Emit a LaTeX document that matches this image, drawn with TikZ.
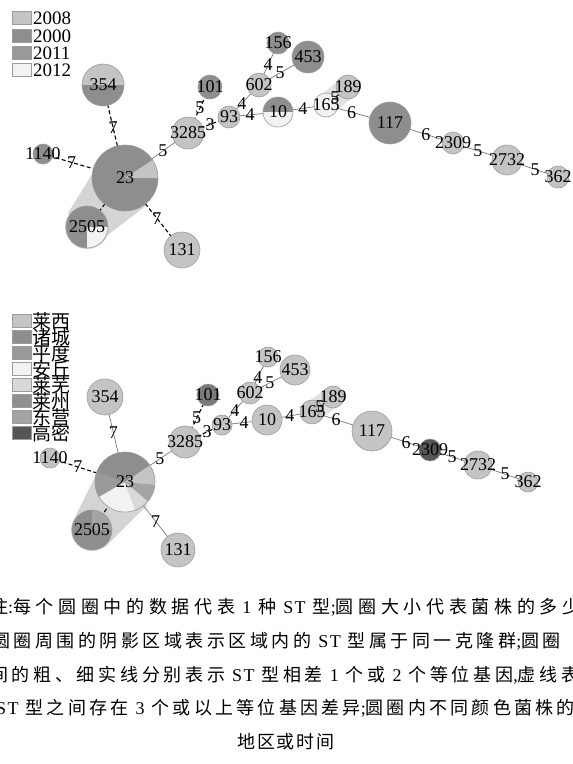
\documentclass[tikz,border=0pt]{standalone}
\usepackage{fontspec}
\setmainfont{Liberation Serif}
\newfontfamily\cjk{Noto Sans CJK SC}
\newfontfamily\latc[LetterSpace=8]{Liberation Serif}
\pgfdeclarelayer{bg}
\pgfdeclarelayer{hull}
\pgfdeclarelayer{edges}
\pgfdeclarelayer{pies}
\pgfdeclarelayer{front}
\pgfsetlayers{bg,hull,edges,pies,main,front}
\definecolor{cA}{HTML}{C4C4C4}
\definecolor{cB}{HTML}{8E8E8E}
\definecolor{cC}{HTML}{999999}
\definecolor{cD}{HTML}{F2F2F2}
\definecolor{cE}{HTML}{D8D8D8}
\definecolor{cF}{HTML}{909090}
\definecolor{cG}{HTML}{A4A4A4}
\definecolor{cH}{HTML}{555555}
\definecolor{cK}{HTML}{7A7A7A}
\definecolor{hullc}{HTML}{D4D4D4}
\definecolor{bandc}{HTML}{E2E2E2}
\definecolor{rimc}{HTML}{9C9C9C}
\definecolor{edgec}{HTML}{7A7A7A}
\tikzset{
  stc/.style={circle, draw=rimc, line width=0.6pt, inner sep=0pt},
  sttxt/.style={inner sep=0pt, font=\fontsize{18}{18}\selectfont},
  lbl/.style={inner sep=0pt, font=\fontsize{18}{18}\selectfont},
  solidedge/.style={draw=edgec, line width=0.7pt},
  dashedge/.style={draw=black, line width=1.1pt, dash pattern=on 4pt off 2.5pt},
  legsq/.style={rectangle, draw=rimc, line width=0.5pt, minimum width=19pt, minimum height=13pt, inner sep=0pt},
  legtxt/.style={anchor=west, inner sep=0pt, font=\fontsize{19}{19}\selectfont},
  legcjk/.style={anchor=west, inner sep=0pt, font=\cjk\fontsize{19}{19}\selectfont},
  capt/.style={inner sep=0pt, font=\fontsize{18}{18}\selectfont}
}
\newcommand\stnode[6]{\node[stc, minimum size={2*#4}, fill=#5] (#1) at (#2,#3) {};
  \node[sttxt] (#1t) at (#1.center) {#6};}
\newcommand\pieslice[5]{\begin{pgfonlayer}{pies}\fill[#5] (#1.center) -- ++({-(#3)}:#2) arc[start angle={-(#3)}, end angle={-(#4)}, radius=#2] -- cycle;\end{pgfonlayer}}
\newcommand\stedge[5]{\begin{pgfonlayer}{edges}\draw[#1] (#2.center) -- (#3.center);\end{pgfonlayer}
  \begin{pgfonlayer}{front}\path (#2.center) -- (#3.center) node[lbl, pos=#4] (lab-#2-#3) {#5};\end{pgfonlayer}}
\newcommand\capls{20}
\newcommand\zh[1]{{\cjk\addfontfeature{LetterSpace=\capls}#1}}
\newcommand\gp{\hspace{7pt}}
\newcommand\ST{{\latc ST}}
\begin{document}
\begin{tikzpicture}[x=1pt, y=-1pt]
\useasboundingbox (0,0) rectangle (573,764);
\begin{pgfonlayer}{bg}
\fill[white] (0,0) rectangle (573,764);
\end{pgfonlayer}

% ================= TOP PANEL =================
\node[legsq, fill=cA] (la1) at (22,18) {};
\node[legtxt] (lat1) at (33,18) {2008};
\node[legsq, fill=cB] (la2) at (22,36) {};
\node[legtxt] (lat2) at (33,36) {2000};
\node[legsq, fill=cC] (la3) at (22,53) {};
\node[legtxt] (lat3) at (33,53) {2011};
\node[legsq, fill=cD] (la4) at (22,70) {};
\node[legtxt] (lat4) at (33,70) {2012};

\stnode{a354}{103}{85}{21}{none}{354}
\pieslice{a354}{21}{0}{180}{cA}
\pieslice{a354}{21}{180}{360}{cB}
\stnode{a23}{125}{178}{33}{none}{23}
\pieslice{a23}{33}{33}{360}{cB}
\pieslice{a23}{33}{0}{33}{cA}
\stnode{a2505}{87}{227}{21}{none}{2505}
\pieslice{a2505}{21}{0}{270}{cB}
\pieslice{a2505}{21}{270}{360}{cD}
\stnode{a1140}{43}{154}{10}{cB}{1140}
\stnode{a131}{182}{250}{18}{cA}{131}
\stnode{a3285}{188}{133}{16}{cA}{3285}
\stnode{a101}{210}{87}{12}{cB}{101}
\stnode{a93}{229}{117}{11}{cA}{93}
\stnode{a602}{259}{85}{12}{cA}{602}
\stnode{a156}{278}{43}{11}{cB}{156}
\stnode{a453}{308}{57}{16}{cB}{453}
\stnode{a10}{278}{112}{15}{none}{10}
\pieslice{a10}{15}{0}{180}{cB}
\pieslice{a10}{15}{180}{360}{cD}
\stnode{a165}{326}{105}{12}{cD}{165}
\stnode{a189}{348}{87}{12}{cA}{189}
\stnode{a117}{390}{123}{21}{cB}{117}
\stnode{a2309}{453}{143}{11}{cA}{2309}
\stnode{a2732}{507}{160}{15}{cA}{2732}
\stnode{a362}{558}{177}{11}{cA}{362}

\begin{pgfonlayer}{hull}
\fill[hullc] (93,173) -- (147,205) -- (92,247) -- (68,213) -- cycle;
\fill[hullc] (a2505.center) circle[radius=22];
\fill[hullc] (a23.center) circle[radius=33];
\draw[bandc, line width=22pt, line cap=round] (a165.center) -- (a189.center);
\end{pgfonlayer}

\stedge{dashedge}{a354}{a23}{0.46}{7}
\stedge{dashedge}{a1140}{a23}{0.35}{7}
\stedge{dashedge}{a23}{a131}{0.56}{7}
\stedge{solidedge}{a23}{a3285}{0.6}{5}
\stedge{dashedge}{a3285}{a101}{0.54}{5}
\stedge{dashedge}{a3285}{a93}{0.54}{3}
\stedge{solidedge}{a93}{a602}{0.43}{4}
\stedge{solidedge}{a93}{a10}{0.43}{4}
\stedge{solidedge}{a602}{a156}{0.48}{4}
\stedge{solidedge}{a602}{a453}{0.43}{5}
\stedge{solidedge}{a10}{a165}{0.52}{4}
\stedge{dashedge}{a165}{a189}{0.4}{5}
\stedge{solidedge}{a165}{a117}{0.4}{6}
\stedge{solidedge}{a117}{a2309}{0.57}{6}
\stedge{solidedge}{a2309}{a2732}{0.46}{5}
\stedge{solidedge}{a2732}{a362}{0.55}{5}
\begin{pgfonlayer}{edges}\draw[dashedge] (a23.center) -- (a2505.center);\end{pgfonlayer}

% ================= BOTTOM PANEL =================
\node[legsq, fill=cA] (lb1) at (22,321) {};
\node[legsq, fill=cB] (lb2) at (22,337) {};
\node[legsq, fill=cC] (lb3) at (22,353) {};
\node[legsq, fill=cD] (lb4) at (22,369) {};
\node[legsq, fill=cE] (lb5) at (22,385) {};
\node[legsq, fill=cF] (lb6) at (22,401) {};
\node[legsq, fill=cG] (lb7) at (22,417) {};
\node[legsq, fill=cH] (lb8) at (22,433) {};
\node[legcjk] (lbt1) at (32,321) {莱西};
\node[legcjk] (lbt2) at (32,337) {诸城};
\node[legcjk] (lbt3) at (32,353) {平度};
\node[legcjk] (lbt4) at (32,369) {安丘};
\node[legcjk] (lbt5) at (32,385) {莱芜};
\node[legcjk] (lbt6) at (32,401) {莱州};
\node[legcjk] (lbt7) at (32,417) {东营};
\node[legcjk] (lbt8) at (32,433) {高密};

\stnode{b354}{105}{397}{18}{cA}{354}
\stnode{b23}{125}{482}{30}{none}{23}
\pieslice{b23}{30}{34}{160}{cB}
\pieslice{b23}{30}{160}{210}{cC}
\pieslice{b23}{30}{210}{290}{cD}
\pieslice{b23}{30}{290}{320}{cE}
\pieslice{b23}{30}{320}{355}{cG}
\pieslice{b23}{30}{355}{394}{cA}
\stnode{b2505}{92}{530}{20}{none}{2505}
\pieslice{b2505}{20}{90}{360}{cB}
\pieslice{b2505}{20}{0}{90}{cG}
\stnode{b1140}{50}{458}{10}{cA}{1140}
\stnode{b131}{178}{550}{17}{cA}{131}
\stnode{b3285}{185}{442}{16}{cA}{3285}
\stnode{b101}{208}{395}{11}{cK}{101}
\stnode{b93}{222}{425}{10}{cA}{93}
\stnode{b602}{250}{393}{11}{cA}{602}
\stnode{b156}{268}{357}{10}{cA}{156}
\stnode{b453}{295}{370}{15}{cA}{453}
\stnode{b10}{267}{420}{15}{cA}{10}
\stnode{b165}{312}{412}{12}{cA}{165}
\stnode{b189}{333}{397}{11}{cA}{189}
\stnode{b117}{372}{431}{20}{cA}{117}
\stnode{b2309}{430}{450}{11}{cH}{2309}
\stnode{b2732}{478}{465}{14}{cA}{2732}
\stnode{b362}{528}{482}{10}{cA}{362}

\begin{pgfonlayer}{hull}
\fill[hullc] (97,473) -- (147,505) -- (105,547) -- (75,517) -- cycle;
\fill[hullc] (b2505.center) circle[radius=21];
\fill[hullc] (b23.center) circle[radius=30];
\draw[bandc, line width=21pt, line cap=round] (b165.center) -- (b189.center);
\end{pgfonlayer}

\stedge{solidedge}{b354}{b23}{0.42}{7}
\stedge{dashedge}{b1140}{b23}{0.37}{7}
\stedge{solidedge}{b23}{b131}{0.58}{7}
\stedge{solidedge}{b23}{b3285}{0.58}{5}
\stedge{dashedge}{b3285}{b101}{0.51}{5}
\stedge{dashedge}{b3285}{b93}{0.6}{3}
\stedge{solidedge}{b93}{b602}{0.46}{4}
\stedge{solidedge}{b93}{b10}{0.49}{4}
\stedge{solidedge}{b602}{b156}{0.44}{4}
\stedge{solidedge}{b602}{b453}{0.44}{5}
\stedge{solidedge}{b10}{b165}{0.51}{4}
\stedge{dashedge}{b165}{b189}{0.38}{5}
\stedge{solidedge}{b165}{b117}{0.4}{6}
\stedge{solidedge}{b117}{b2309}{0.59}{6}
\stedge{solidedge}{b2309}{b2732}{0.46}{5}
\stedge{solidedge}{b2732}{b362}{0.54}{5}
\begin{pgfonlayer}{edges}\draw[dashedge] (b23.center) -- (b2505.center);\end{pgfonlayer}

% ================= CAPTION =================
\renewcommand\capls{26}
\node[capt, anchor=west] (cap1) at (-10,607) {\zh{注}:\zh{每个圆圈中的数据代表}\gp 1\gp\zh{种}\gp\ST\gp\zh{型};\zh{圆圈大小代表菌株的多少}};
\renewcommand\capls{19.5}
\node[capt, anchor=west] (cap2) at (-8,641) {\zh{圆圈周围的阴影区域表示区域内的}\gp\ST\gp\zh{型属于同一克隆群};\zh{圆圈}};
\renewcommand\capls{20.5}
\node[capt, anchor=west] (cap3) at (-10,675) {\zh{间的粗、细实线分别表示}\gp\ST\gp\zh{型相差}\gp 1\gp\zh{个或}\gp 2\gp\zh{个等位基因},\zh{虚线表}};
\renewcommand\capls{18}
\node[capt, anchor=west] (cap4) at (-4,708) {\ST\gp\zh{型之间存在}\gp 3\gp\zh{个或以上等位基因差异};\zh{圆圈内不同颜色菌株的}};
\renewcommand\capls{10}
\node[capt] (cap5) at (286,742) {\zh{地区或时间}};
\end{tikzpicture}
\end{document}
